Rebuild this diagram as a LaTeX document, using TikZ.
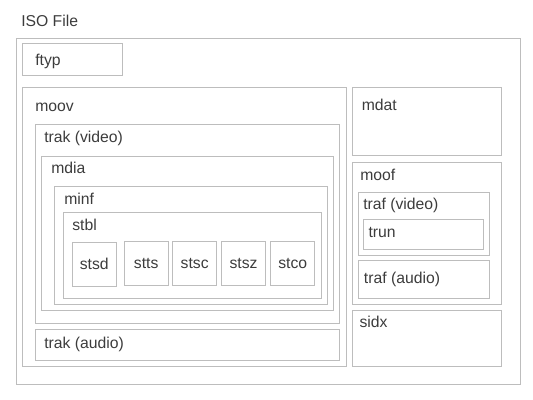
\documentclass[tikz,border=0pt]{standalone}
\usepackage{fontspec}
\setmainfont{Liberation Sans}
\usepackage{tikz}
\usetikzlibrary{positioning, fit}
\definecolor{boxline}{HTML}{BDBDBD}
\definecolor{boxtext}{HTML}{3C3C3C}
\tikzstyle{abox} = [draw=boxline, line width=0.75pt, inner sep=0pt, rectangle]
\tikzstyle{lbl} = [anchor=base west, inner sep=0pt, text=boxtext, font=\fontsize{11.8pt}{14pt}\selectfont]
\tikzstyle{leaf} = [abox, label={[lbl, anchor=center]center:#1}]

\begin{document}
\begin{tikzpicture}[x=0.75pt, y=-0.75pt]
			\useasboundingbox (0,0) rectangle (533,400);
			\node [lbl] (isol) at (21,26) {ISO File};
			\node [abox, fit={(16.5,38) (520,384)}] (iso) {};

			\node [abox, fit={(22.5,43.5) (122,75.5)}] (ftyp) {};
			\node [lbl] (ftypl) at (35,65) {ftyp};

			\node [abox, fit={(22.5,87.5) (346,366.5)}] (moov) {};
			\node [lbl] (moovl) at (35,111.5) {moov};
			\node [abox, fit={(35.5,124.5) (339.5,323)}] (trakv) {};
			\node [lbl] (trakvl) at (44,142.5) {trak (video)};
			\node [abox, fit={(41.5,156) (333.5,310)}] (mdia) {};
			\node [lbl] (mdial) at (51,173) {mdia};
			\node [abox, fit={(54,186.5) (327,304)}] (minf) {};
			\node [lbl] (minfl) at (64,204) {minf};
			\node [abox, fit={(63,212.5) (321.5,298)}] (stbl) {};
			\node [lbl] (stbll) at (72,230.5) {stbl};

			\node [leaf=stsd, fit={(72.3,242.3) (116.3,286)}] (stsd) {};
			\node [leaf=stts, fit={(124,241.3) (168.3,285.3)}] (stts) {};
			\node [leaf=stsc, fit={(172.7,241.3) (216.7,285.3)}] (stsc) {};
			\node [leaf=stsz, fit={(221.3,241.3) (265.7,285.3)}] (stsz) {};
			\node [leaf=stco, fit={(270.7,241.3) (314.7,285.3)}] (stco) {};

			\node [abox, fit={(35.5,329.3) (339.7,360)}] (traka) {};
			\node [lbl] (trakal) at (44,348) {trak (audio)};

			\node [abox, fit={(352.3,87.7) (501.7,155.3)}] (mdat) {};
			\node [lbl] (mdatl) at (361.5,110.5) {mdat};

			\node [abox, fit={(352.3,162.3) (501.7,304)}] (moof) {};
			\node [lbl] (moofl) at (360,180.5) {moof};
			\node [abox, fit={(358.7,192.3) (489.7,255)}] (trafv) {};
			\node [lbl] (trafvl) at (363,209.5) {traf (video)};
			\node [abox, fit={(363.3,219.3) (483.3,249)}] (trun) {};
			\node [lbl] (trunl) at (368.3,237.5) {trun};
			\node [abox, fit={(358.3,260.7) (489.3,298.3)}] (trafa) {};
			\node [lbl] (trafal) at (363.7,283) {traf (audio)};

			\node [abox, fit={(352.3,310.3) (501.7,366.3)}] (sidx) {};
			\node [lbl] (sidxl) at (359.3,327.5) {sidx};
		\end{tikzpicture}
\end{document}
